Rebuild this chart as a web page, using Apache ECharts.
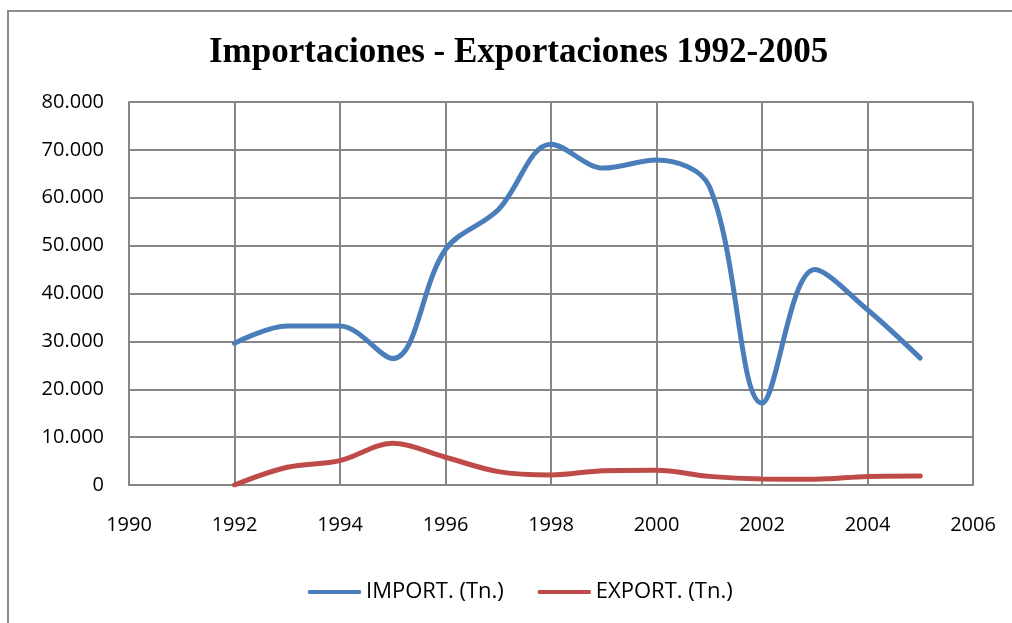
<!DOCTYPE html>
<html>
<head>
<meta charset="utf-8">
<script src="https://cdn.jsdelivr.net/npm/echarts@6/dist/echarts.min.js"></script>
<style>
  html, body { margin: 0; padding: 0; background: #fff; }
  #main { width: 1012px; height: 623px; }
</style>
</head>
<body>
<div id="main"></div>
<script>
// años y toneladas
var years = [1992, 1993, 1994, 1995, 1996, 1997, 1998, 1999, 2000, 2001, 2002, 2003, 2004, 2005];
var importTn = [29600, 33200, 33200, 26400, 49200, 57500, 71200, 66200, 67900, 62400, 17100, 45000, 36600, 26500];
var exportTn = [0, 3700, 5100, 8700, 5800, 2800, 2100, 3000, 3100, 1800, 1250, 1200, 1800, 1900];

var toPairs = function (xs, ys) {
    var out = [];
    for (var i = 0; i < xs.length; i++) {
        out.push([xs[i], ys[i]]);
    }
    return out;
};

var fmt = function (v) {
    return String(v).replace(/\B(?=(\d{3})+(?!\d))/g, '.');
};

var chartDom = document.getElementById('main');
var myChart = echarts.init(chartDom);
var option = {
    animation: false,
    backgroundColor: '#fff',
    graphic: [{
        type: 'rect',
        shape: { x: 8, y: 11, width: 1100, height: 700 },
        style: { fill: 'none', stroke: '#8c8c8c', lineWidth: 2 },
        silent: true
    }],
    title: {
        text: 'Importaciones - Exportaciones 1992-2005',
        left: 204,
        top: 30,
        textStyle: {
            fontFamily: 'Liberation Serif',
            fontWeight: 'bold',
            fontSize: 35,
            color: '#000'
        }
    },
    legend: {
        bottom: 15,
        left: 303,
        itemWidth: 53,
        itemHeight: 4,
        itemGap: 34,
        icon: 'roundRect',
        textStyle: { fontFamily: 'Open Sans', fontSize: 22, color: '#000' },
        data: ['IMPORT. (Tn.)', 'EXPORT. (Tn.)']
    },
    grid: {
        left: 129,
        right: 39,
        top: 102,
        bottom: 138,
        containLabel: false
    },
    xAxis: {
        type: 'value',
        min: 1990,
        max: 2006,
        interval: 2,
        axisLine: { lineStyle: { color: '#868686', width: 2 } },
        axisTick: { show: false },
        splitLine: { show: true, lineStyle: { color: '#868686', width: 2 } },
        axisLabel: {
            margin: 30,
            fontFamily: 'Open Sans',
            fontSize: 20,
            color: '#000',
            formatter: function (v) { return String(v); }
        }
    },
    yAxis: {
        type: 'value',
        min: 0,
        max: 80000,
        interval: 10000,
        axisLine: { show: true, lineStyle: { color: '#868686', width: 2 } },
        axisTick: { show: false },
        splitLine: { show: true, lineStyle: { color: '#868686', width: 2 } },
        axisLabel: {
            margin: 25,
            fontFamily: 'Open Sans',
            fontSize: 20,
            color: '#000',
            formatter: fmt
        }
    },
    series: [
        {
            name: 'IMPORT. (Tn.)',
            type: 'line',
            smooth: 0.35,
            showSymbol: false,
            lineStyle: { color: '#4a7ebb', width: 5, cap: 'round' },
            itemStyle: { color: '#4a7ebb' },
            data: toPairs(years, importTn)
        },
        {
            name: 'EXPORT. (Tn.)',
            type: 'line',
            smooth: 0.35,
            showSymbol: false,
            lineStyle: { color: '#be4b48', width: 5, cap: 'round' },
            itemStyle: { color: '#be4b48' },
            data: toPairs(years, exportTn)
        }
    ]
};

option && myChart.setOption(option);
</script>
</body>
</html>
